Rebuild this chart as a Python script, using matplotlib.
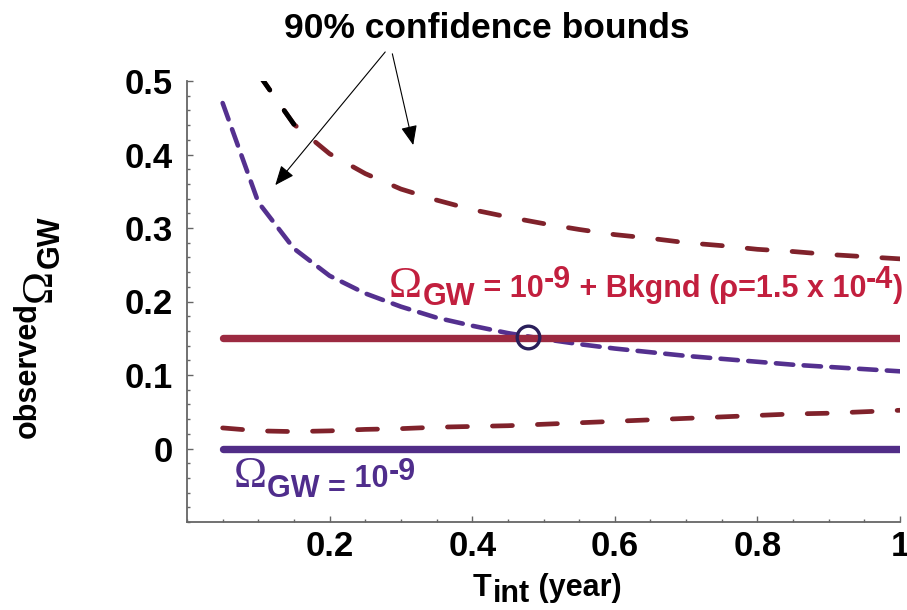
import matplotlib
matplotlib.use('Agg')
import matplotlib.pyplot as plt
from matplotlib.ticker import MultipleLocator, FixedLocator
from matplotlib.transforms import IdentityTransform

# Integration time grid (years) and the curves.
t_int = [0.05, 0.10, 0.15, 0.20, 0.25, 0.30, 0.35, 0.40, 0.45, 0.50,
         0.55, 0.60, 0.65, 0.70, 0.75, 0.80, 0.85, 0.90, 0.95, 1.00]
upper_nobkg = [0.470, 0.335, 0.272, 0.235, 0.211, 0.193, 0.178, 0.167, 0.157, 0.149,
               0.142, 0.136, 0.131, 0.126, 0.122, 0.118, 0.114, 0.111, 0.108, 0.105]
t_bkg_upper = t_int[1:]
upper_bkg = [0.510, 0.441, 0.401, 0.374, 0.353, 0.338, 0.325, 0.315, 0.306,
             0.298, 0.291, 0.286, 0.280, 0.276, 0.271, 0.268, 0.264, 0.261, 0.258]
lower_bkg = [0.028, 0.024, 0.023, 0.024, 0.026, 0.027, 0.029, 0.030, 0.031, 0.033,
             0.035, 0.037, 0.039, 0.041, 0.043, 0.045, 0.047, 0.048, 0.050, 0.052]
level_bkg = 0.15
level_nobkg = 0.0
cross_t = 0.478
cross_v = 0.152

xticks = [0.2, 0.4, 0.6, 0.8, 1.0]
xtick_labels = ['0.2', '0.4', '0.6', '0.8', '1']
yticks = [0.0, 0.1, 0.2, 0.3, 0.4, 0.5]
ytick_labels = ['0', '0.1', '0.2', '0.3', '0.4', '0.5']

RED = '#9c2a41'
DARKRED = '#80222b'
PURPLE = '#512d87'
PURPLE_DASH = '#54308f'
LABEL_RED = '#c21f3e'
LABEL_PURPLE = '#4f2d8c'
RING = '#2a1f5a'
SPINE = '#666666'

SANS = 'Liberation Sans'
SERIF = 'Liberation Serif'

plt.rcParams['font.family'] = SANS
plt.rcParams['font.weight'] = 'bold'
plt.rcParams['lines.scale_dashes'] = False


def text_chain(fig, x0, y0, pieces, color, rotation=0):
    """Lay out text pieces one after another (display pixels), shifting sub/superscripts."""
    renderer = fig.canvas.get_renderer()
    pos = 0.0
    for s, family, size, weight, shift, gap in pieces:
        pos += gap
        if rotation == 0:
            x, y = x0 + pos, y0 + shift
        else:
            x, y = x0 - shift, y0 + pos
        t = fig.text(x, y, s, transform=IdentityTransform(), family=family, size=size,
                     weight=weight, color=color, ha='left', va='baseline',
                     rotation=rotation, rotation_mode='anchor')
        bb = t.get_window_extent(renderer)
        pos += bb.width if rotation == 0 else bb.height


W, H = 907, 610
fig = plt.figure(figsize=(W / 100, H / 100), dpi=100)
ax = fig.add_axes([187 / W, 1 - 522 / H, 713 / W, 441 / H])

# confidence bounds
ax.plot(t_int, upper_nobkg, color=PURPLE_DASH, lw=3.3, dashes=(12.5, 7.5),
        dash_capstyle='round', zorder=2)
ax.plot(t_bkg_upper, upper_bkg, color=DARKRED, lw=3.4, dashes=(14.4, 18),
        dash_capstyle='round', zorder=2)
ax.plot(t_bkg_upper[:2], upper_bkg[:2], color='black', lw=3.4, dashes=(14.4, 18),
        dash_capstyle='round', zorder=2)
ax.plot(t_int, lower_bkg, color=DARKRED, lw=3.4, dashes=(14.4, 18),
        dash_capstyle='round', zorder=2)

# true signal levels
ax.plot([t_int[0], t_int[-1]], [level_bkg, level_bkg], color=RED, lw=5.3,
        solid_capstyle='round', zorder=3)
ax.plot([t_int[0], t_int[-1]], [level_nobkg, level_nobkg], color=PURPLE, lw=5.3,
        solid_capstyle='round', zorder=3)
ax.plot([cross_t], [cross_v], 'o', ms=16.3, mfc='none', mec=RING, mew=2.4, zorder=4)

ax.set_xlim(0, 1)
ax.set_ylim(-0.1, 0.5)
for side in ['top', 'right']:
    ax.spines[side].set_visible(False)
for side in ['left', 'bottom']:
    ax.spines[side].set_color(SPINE)
    ax.spines[side].set_linewidth(1.3)

ax.xaxis.set_major_locator(FixedLocator(xticks))
ax.set_xticklabels(xtick_labels)
ax.yaxis.set_major_locator(FixedLocator(yticks))
ax.set_yticklabels(ytick_labels)
ax.xaxis.set_minor_locator(MultipleLocator(0.05))
ax.yaxis.set_minor_locator(MultipleLocator(0.02))
ax.tick_params(which='major', direction='in', length=4.5, width=1, color=SPINE,
               labelsize=25)
ax.tick_params(which='minor', direction='in', length=2.5, width=1, color=SPINE)
ax.tick_params(axis='y', pad=10)
ax.tick_params(axis='x', pad=5.5)

# title + arrows
ax.text(0.42, 0.5586, '90% confidence bounds', ha='center', va='baseline',
        fontsize=25.5, fontweight='bold', clip_on=False)
arrow = dict(arrowstyle='-|>,head_length=0.6,head_width=0.25', lw=0.8,
             color='black', mutation_scale=20, shrinkA=0, shrinkB=0)
ax.annotate('', xy=(0.1238, 0.3583), xytext=(0.278, 0.5395), arrowprops=arrow,
            annotation_clip=False)
ax.annotate('', xy=(0.3173, 0.4128), xytext=(0.288, 0.537), arrowprops=arrow,
            annotation_clip=False)

# curve labels
x0, y0 = ax.transData.transform((0.2823, 0.2057))
text_chain(fig, x0, y0, [
    ('\u03a9', SERIF, 32, 'normal', 0, 0),
    ('GW', SANS, 22, 'bold', -8, 1),
    (' = 10', SANS, 22, 'bold', 0, 0),
    ('-9', SANS, 22, 'bold', 9, 0),
    (' + Bkgnd (\u03c1=1.5 x 10', SANS, 22, 'bold', 0, 0),
    ('-4', SANS, 22, 'bold', 9, 0),
    (')', SANS, 22, 'bold', 0, 0),
], LABEL_RED)

x0, y0 = ax.transData.transform((0.065, -0.053))
text_chain(fig, x0, y0, [
    ('\u03a9', SERIF, 32, 'normal', 0, 0),
    ('GW =', SANS, 22, 'bold', -10, 1),
    (' 10', SANS, 22, 'bold', 0, 0),
    ('-9', SANS, 22, 'bold', 7, 0),
], LABEL_PURPLE)

# axis labels
text_chain(fig, 473, H - 596, [
    ('T', SANS, 22, 'bold', 0, 0),
    ('int', SANS, 22, 'bold', -6, 1),
    (' (year)', SANS, 22, 'bold', 0, 0),
], 'black')

text_chain(fig, 36, H - 438, [
    ('observed', SANS, 22, 'bold', 0, 0),
    ('\u03a9', SERIF, 32, 'normal', -15, 0),
    ('GW', SANS, 22, 'bold', -23, 1),
], 'black', rotation=90)

fig.savefig('out.png', dpi=100)
